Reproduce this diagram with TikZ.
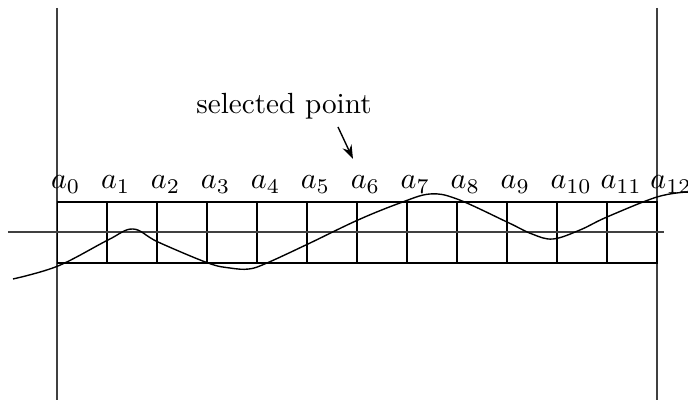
\documentclass[tikz,border=0pt]{standalone}
\usetikzlibrary{arrows.meta}
\begin{document}
\begin{tikzpicture}[x=0.36pt,y=-0.36pt,
  guide/.style={draw=black!75, line width=0.5pt},
  cell/.style={draw=black, line width=0.7pt},
  lbl/.style={inner sep=0pt, anchor=base west, scale=1.08},
  curve/.style={draw=black, line width=0.5pt},
  pointer/.style={-{Stealth[length=5pt,width=3.5pt]}, line width=0.5pt}]
\useasboundingbox (0,0) rectangle (688,400);
% vertical guides
\draw[guide] (57,8) -- (57,400);
\draw[guide] (657,8) -- (657,400);
% grid
\foreach \i in {0,...,11} {
  \draw[cell] ({57.5+49.95*\i},202) rectangle ({57.5+49.95*(\i+1)},263);
}
% horizontal axis
\draw[guide] (8,232) -- (664,232);
% labels
\foreach \i in {0,...,12} {
  \node[lbl] (a\i) at ({57.5+49.95*\i-7},189) {$a_{\i}$};
}
% curve
\draw[curve] plot[smooth, tension=0.6] coordinates {
  (13,279) (58,266) (108,240) (133,229) (158,242)
  (208,263) (230,268) (249,269) (267,263) (308,244) (358,220) (400,203)
  (430,194) (457,199) (507,222) (532,234) (553,239) (580,230) (607,217)
  (657,197) (687,192)};
% selected point
\node[scale=1.05] (sel) at (284,106) {selected point};
\coordinate (tip) at (353,159);
\draw[pointer] (338,127) -- (tip);
\end{tikzpicture}
\end{document}
